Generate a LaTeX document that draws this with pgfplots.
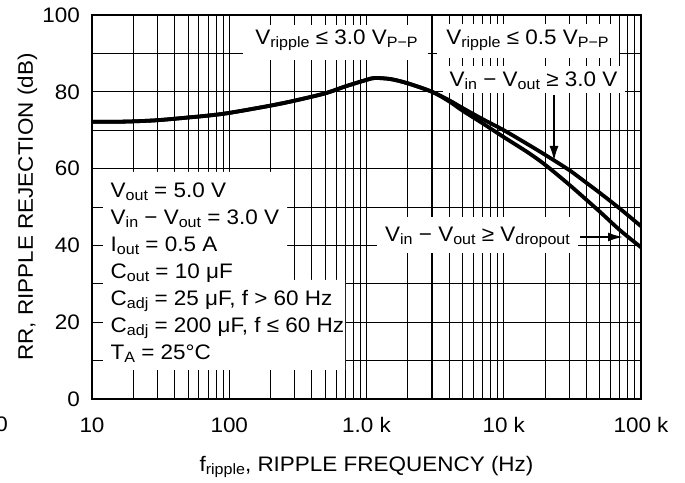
\documentclass[border=0pt]{standalone}
\usepackage{fontspec}
\setmainfont{Liberation Sans}[FakeStretch=1.07]
\usepackage{pgfplots}
\pgfplotsset{compat=1.18}
\usetikzlibrary{calc,arrows.meta}

\newcommand\F{\fontsize{21bp}{25bp}\selectfont}
\newcommand\s[1]{\raisebox{-0.14em}{\fontsize{15bp}{17bp}\selectfont #1}}

\begin{document}
\begin{tikzpicture}
\begin{axis}[
  scale only axis,
  width=549bp, height=384bp,
  xmode=log,
  xmin=10, xmax=100000,
  ymin=0, ymax=100,
  xtick={10,100,1000,10000,100000},
  xticklabels={10,100,1.0 k,10 k,100 k},
  ytick={0,20,40,60,80,100},
  yticklabels={0,20,40,60,80,100},
  minor y tick num=1,
  grid=both,
  grid style={black, line width=0.8bp},
  minor grid style={black, line width=0.8bp},
  major grid style={black, line width=0.8bp},
  major tick length=0pt, minor tick length=0pt,
  axis line style={line width=2bp},
  tick label style={font=\F},
  xticklabel style={anchor=base, inner sep=0pt, yshift=-33bp},
  yticklabel style={anchor=east, inner sep=0pt, xshift=-12bp},
]
  \coordinate (ll) at (rel axis cs:0,0);

  % 3 kHz divider between the two ripple ranges
  \addplot[black, line width=2bp] coordinates {(3000,0) (3000,100)};

  % Vin - Vout >= 3.0 V
  \addplot[black, line width=3.8bp, smooth] coordinates {
    (10,72.2) (15,72.2) (20,72.3) (30,72.6) (50,73.3) (70,73.8) (100,74.5)
    (200,76.4) (300,77.7) (500,79.6) (700,81.4) (1000,83.1) (1150,83.6)
    (1500,83.3) (2000,82.2) (3000,80.0) (4000,77.8)
    (5000,75.8) (7000,72.9) (10000,70.0) (15000,66.3) (20000,63.6)
    (30000,59.6) (40000,56.3) (50000,53.7) (70000,49.6) (100000,45.0)
  };

  % Vin - Vout >= Vdropout
  \addplot[black, line width=3.8bp, smooth] coordinates {
    (10,72.2) (15,72.2) (20,72.3) (30,72.6) (50,73.3) (70,73.8) (100,74.5)
    (200,76.4) (300,77.7) (500,79.6) (700,81.4) (1000,83.1) (1150,83.6)
    (1500,83.3) (2000,82.2) (3000,80.0) (4000,77.5)
    (5000,75.1) (7000,71.8) (10000,68.2) (15000,64.2) (20000,61.0)
    (30000,55.8) (50000,48.8) (70000,44.0) (100000,39.5)
  };
\end{axis}

\begin{scope}[shift={($(ll)+(-92bp,399bp)$)}, x=1bp, y=-1bp]
  % white label backgrounds over the grid
  \fill[white] (243,25) rectangle (428,60);
  \fill[white] (437,24) rectangle (619,58);
  \fill[white] (443,66) rectangle (625,93);
  \fill[white] (377,217) rectangle (578,253);
  \fill[white] (103,172) -- (287,172) -- (287,280) -- (345,280)
               -- (345,370) -- (103,370) -- cycle;

  \node[anchor=base, inner sep=0pt] at (336.5,45) {\F V\s{ripple} ≤ 3.0 V\s{P−P}};
  \node[anchor=base, inner sep=0pt] at (527.5,45) {\F V\s{ripple} ≤ 0.5 V\s{P−P}};
  \node[anchor=base, inner sep=0pt] at (533.5,86.5) {\F V\s{in} − V\s{out} ≥ 3.0 V};
  \node[anchor=base, inner sep=0pt] at (477.5,242) {\F V\s{in} − V\s{out} ≥ V\s{dropout}};

  \draw[line width=2bp, -{Latex[length=15bp, width=9bp]}] (554,95) -- (554,161);
  \draw[line width=2bp, -{Latex[length=15bp, width=9bp]}] (580,237) -- (623,237);

  \node[anchor=base west, inner sep=0pt] at (110.5,197.5) {\F V\s{out} = 5.0 V};
  \node[anchor=base west, inner sep=0pt] at (110.5,224.7) {\F V\s{in} − V\s{out} = 3.0 V};
  \node[anchor=base west, inner sep=0pt] at (110.5,251.5) {\F I\s{out} = 0.5 A};
  \node[anchor=base west, inner sep=0pt] at (110.5,278.5) {\F C\s{out} = 10 μF};
  \node[anchor=base west, inner sep=0pt] at (110.5,305.5) {\F C\s{adj} = 25 μF, f > 60 Hz};
  \node[anchor=base west, inner sep=0pt] at (110.5,333) {\F C\s{adj} = 200 μF, f ≤ 60 Hz};
  \node[anchor=base west, inner sep=0pt] at (110.5,360) {\F T\s{A} = 25°C};

  % axis titles
  \node[rotate=90, anchor=base, inner sep=0pt] at (33,207) {\F RR, RIPPLE REJECTION (dB)};
  \node[anchor=base, inner sep=0pt] at (366.5,472) {\F f\s{ripple}, RIPPLE FREQUENCY (Hz)};
  \node[anchor=base east, inner sep=0pt] at (8,432) {\F 0};

  \pgfresetboundingbox
  \path[use as bounding box] (0,0) rectangle (685,483);
\end{scope}
\end{tikzpicture}
\end{document}
